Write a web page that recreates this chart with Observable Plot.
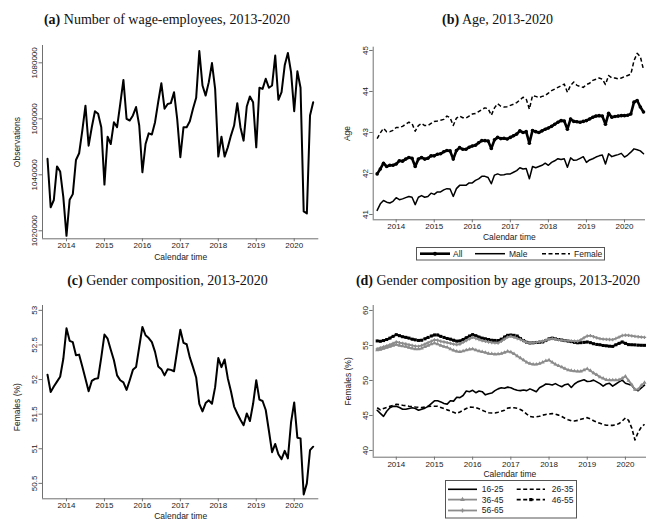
<!DOCTYPE html>
<html><head><meta charset="utf-8">
<script src="https://cdn.jsdelivr.net/npm/d3@7"></script>
<script src="https://cdn.jsdelivr.net/npm/@observablehq/plot@0.6"></script>
<style>
body{margin:0;background:#fff;}
#wrap{position:relative;width:653px;height:524px;background:#fff;overflow:hidden;}
.title{position:absolute;font-family:"Liberation Serif","Times New Roman",serif;font-size:14px;color:#111;white-space:nowrap;transform:translate(-50%,-50%);}
.title b{font-weight:bold;}
</style></head>
<body><div id="wrap"></div>
<script>
// ---------- DATA (monthly, 2013m7 .. 2020m7) ----------
const startYear = 2013, startMonth = 7;
const yearTicks = [2014, 2015, 2016, 2017, 2018, 2019, 2020];

// (a) Number of wage-employees
const employees = [
  1045700, 1028400, 1031000, 1043000, 1041200, 1032000,
  1018200, 1031100, 1033100, 1045300, 1047700, 1055800, 1064700, 1050400, 1057000, 1062700, 1061800, 1057000,
  1036500, 1053600, 1051000, 1058800, 1057000, 1065300, 1073900, 1060000, 1059400, 1061200, 1064200, 1057600,
  1040900, 1051000, 1054800, 1054400, 1058800, 1066000, 1072700, 1063600, 1065300, 1065600, 1069500, 1060000,
  1046300, 1057000, 1057000, 1059100, 1063600, 1067500, 1084200, 1071900, 1068300, 1073100, 1079900, 1070700,
  1046500, 1053600, 1046500, 1049800, 1054000, 1057600, 1065600, 1057000, 1052200, 1064400, 1068000, 1065900,
  1049800, 1071100, 1070700, 1074300, 1071100, 1071900, 1082600, 1066800, 1069500, 1079100, 1083500, 1076700,
  1062700, 1077000, 1071100, 1026900, 1026200, 1061200, 1065900
];
const employeesTicks = [1020000, 1040000, 1060000, 1080000];

// (b) Age
const ageAll = [
  41.99, 42.11, 42.25, 42.17, 42.20, 42.20,
  42.23, 42.31, 42.30, 42.35, 42.39, 42.37, 42.17, 42.35, 42.39, 42.35, 42.37, 42.43,
  42.43, 42.47, 42.48, 42.53, 42.56, 42.55, 42.35, 42.56, 42.63, 42.59, 42.59, 42.64,
  42.67, 42.69, 42.75, 42.80, 42.80, 42.79, 42.61, 42.82, 42.88, 42.85, 42.86, 42.84,
  42.88, 42.92, 42.96, 43.04, 43.00, 43.02, 42.74, 43.05, 43.02, 43.00, 43.04, 43.08,
  43.11, 43.15, 43.20, 43.25, 43.29, 43.28, 43.08, 43.33, 43.27, 43.26, 43.25, 43.27,
  43.29, 43.33, 43.37, 43.40, 43.41, 43.40, 43.20, 43.47, 43.37, 43.39, 43.40, 43.41,
  43.41, 43.42, 43.45, 43.74, 43.78, 43.62, 43.50
];
const ageMale = [
  41.10, 41.26, 41.34, 41.30, 41.28, 41.32,
  41.41, 41.36, 41.38, 41.41, 41.44, 41.42, 41.24, 41.42, 41.46, 41.42, 41.44, 41.52,
  41.49, 41.55, 41.55, 41.60, 41.63, 41.62, 41.44, 41.63, 41.71, 41.71, 41.71, 41.77,
  41.77, 41.83, 41.87, 41.93, 41.93, 41.90, 41.75, 41.96, 41.99, 41.96, 41.97, 41.99,
  41.99, 42.03, 42.07, 42.14, 42.11, 42.12, 41.87, 42.17, 42.14, 42.17, 42.20, 42.25,
  42.20, 42.27, 42.31, 42.36, 42.34, 42.36, 42.15, 42.38, 42.32, 42.33, 42.37, 42.41,
  42.27, 42.33, 42.36, 42.40, 42.43, 42.45, 42.23, 42.48, 42.41, 42.44, 42.46, 42.49,
  42.40, 42.45, 42.52, 42.60, 42.58, 42.55, 42.48
];
const ageFemale = [
  42.85, 42.99, 43.10, 43.02, 43.02, 43.05,
  43.12, 43.12, 43.15, 43.20, 43.25, 43.22, 43.03, 43.17, 43.22, 43.17, 43.17, 43.22,
  43.27, 43.28, 43.30, 43.32, 43.40, 43.36, 43.17, 43.35, 43.40, 43.36, 43.35, 43.40,
  43.45, 43.46, 43.51, 43.56, 43.60, 43.58, 43.42, 43.60, 43.70, 43.64, 43.62, 43.63,
  43.66, 43.69, 43.73, 43.79, 43.86, 43.82, 43.57, 43.90, 43.88, 43.85, 43.88, 43.90,
  43.96, 44.02, 44.06, 44.10, 44.14, 44.18, 43.98, 44.15, 44.23, 44.15, 44.12, 44.10,
  44.17, 44.20, 44.27, 44.30, 44.33, 44.30, 44.17, 44.39, 44.33, 44.33, 44.31, 44.33,
  44.36, 44.39, 44.42, 44.75, 44.93, 44.85, 44.53
];
const ageTicks = [41, 42, 43, 44, 45];

// (c) Gender composition (% females)
const females = [
  52.07, 51.82, 51.90, 51.97, 52.04, 52.30,
  52.74, 52.56, 52.54, 52.35, 52.36, 52.19, 52.01, 51.83, 51.98, 52.01, 52.02, 52.32,
  52.65, 52.59, 52.43, 52.28, 52.06, 51.99, 51.96, 51.85, 51.99, 52.14, 52.18, 52.47,
  52.76, 52.64, 52.60, 52.54, 52.40, 52.19, 52.15, 52.06, 52.15, 52.14, 52.12, 52.42,
  52.72, 52.53, 52.51, 52.32, 52.18, 52.03, 51.65, 51.54, 51.66, 51.70, 51.65, 51.89,
  52.31, 52.18, 52.29, 52.02, 51.83, 51.61, 51.51, 51.42, 51.34, 51.51, 51.40, 51.65,
  51.99, 51.71, 51.69, 51.56, 51.26, 50.95, 51.07, 50.92, 50.85, 50.97, 50.86, 51.38,
  51.67, 51.16, 51.15, 50.34, 50.50, 50.98, 51.03
];
const femalesTicks = [50.5, 51, 51.5, 52, 52.5, 53];

// (d) Gender composition by age groups (% females)
const g1625 = [
  45.74, 45.30, 44.88, 45.60, 46.10, 46.30,
  46.32, 46.15, 45.90, 45.90, 46.00, 46.10, 46.00, 45.74, 45.90, 46.05, 46.30, 46.70,
  47.10, 47.10, 46.94, 46.70, 46.62, 47.10, 47.05, 47.60, 47.55, 47.85, 48.50, 48.40,
  48.60, 48.25, 48.50, 48.40, 47.95, 48.10, 48.20, 48.55, 48.80, 48.95, 48.90, 49.05,
  48.95, 48.75, 48.60, 48.55, 48.65, 48.55, 48.80, 48.60, 48.40, 48.95, 49.20, 49.50,
  49.45, 49.35, 49.55, 49.30, 49.10, 49.40, 49.50, 49.00, 49.50, 49.80, 49.95, 50.10,
  49.85, 49.90, 50.05, 49.80, 49.55, 49.20, 49.50, 49.60, 49.20, 49.50, 49.80, 50.05,
  49.60, 49.45, 49.30, 48.71, 48.55, 48.95, 49.33
];
const g2635 = [
  46.10, 45.80, 46.00, 46.15, 46.30, 46.45,
  46.60, 46.55, 46.46, 46.40, 46.32, 46.28, 46.22, 46.18, 46.12, 46.20, 46.30, 46.32,
  46.32, 46.32, 46.15, 45.98, 45.80, 45.65, 45.45, 45.28, 45.50, 45.74, 46.00, 46.20,
  46.18, 46.12, 45.95, 45.74, 45.55, 45.40, 45.36, 45.36, 45.45, 45.60, 45.74, 46.05,
  46.12, 46.10, 46.03, 45.85, 45.60, 45.20, 44.85, 44.78, 44.82, 44.88, 45.05, 45.15,
  45.22, 45.26, 45.20, 45.05, 44.85, 44.60, 44.40, 44.25, 44.22, 44.30, 44.45, 44.58,
  44.69, 44.50, 44.25, 44.05, 43.88, 43.70, 43.60, 43.59, 43.59, 43.65, 43.85, 44.20,
  44.65, 44.30, 43.20, 41.50, 42.60, 43.35, 43.75
];
const g3645 = [
  54.35, 54.40, 54.55, 54.70, 54.85, 55.00,
  55.11, 55.00, 54.90, 54.85, 54.70, 54.60, 54.50, 54.49, 54.60, 54.80, 55.00, 55.20,
  55.35, 55.20, 55.00, 54.85, 54.75, 54.50, 54.30, 54.15, 54.10, 54.20, 54.35, 54.45,
  54.50, 54.35, 54.20, 54.10, 54.00, 53.85, 53.80, 53.75, 53.78, 53.85, 54.00, 54.15,
  54.05, 53.80, 53.50, 53.20, 52.90, 52.60, 52.40, 52.30, 52.30, 52.40, 52.60, 52.80,
  52.90, 52.60, 52.30, 52.10, 51.90, 51.70, 51.50, 51.40, 51.35, 51.30, 51.30, 51.50,
  51.65, 51.40, 51.05, 50.80, 50.50, 50.30, 50.10, 50.05, 50.05, 50.05, 50.10, 50.30,
  50.60, 50.00, 49.40, 48.70, 48.75, 49.30, 49.70
];
const g4655 = [
  55.65, 55.60, 55.70, 55.85, 56.05, 56.30,
  56.55, 56.40, 56.25, 56.16, 56.05, 55.90, 55.80, 55.72, 55.75, 55.95, 56.15, 56.35,
  56.50, 56.50, 56.30, 56.15, 56.00, 55.90, 55.75, 55.62, 55.65, 55.85, 56.10, 56.35,
  56.55, 56.40, 56.20, 56.05, 55.95, 55.85, 55.75, 55.72, 55.70, 55.90, 56.20, 56.45,
  56.50, 56.45, 56.35, 56.00, 55.70, 55.45, 55.35, 55.38, 55.42, 55.47, 55.50, 55.70,
  55.95, 56.05, 55.95, 55.85, 55.78, 55.70, 55.62, 55.55, 55.45, 55.38, 55.40, 55.45,
  55.50, 55.40, 55.25, 55.15, 55.10, 55.00, 54.95, 54.90, 54.87, 55.10, 55.30, 55.50,
  55.30, 55.12, 55.10, 55.08, 55.05, 55.03, 55.02
];
const g5665 = [
  54.50, 54.65, 54.80, 54.95, 55.10, 55.30,
  55.50, 55.40, 55.30, 55.21, 55.10, 55.00, 54.90, 54.87, 55.00, 55.20, 55.40, 55.60,
  55.80, 55.75, 55.60, 55.50, 55.40, 55.30, 55.20, 55.12, 55.20, 55.45, 55.70, 55.95,
  56.16, 56.00, 55.85, 55.70, 55.60, 55.50, 55.42, 55.38, 55.35, 55.60, 55.90, 56.20,
  56.30, 56.15, 56.00, 55.85, 55.65, 55.45, 55.35, 55.40, 55.45, 55.55, 55.60, 55.75,
  55.90, 55.97, 55.90, 55.80, 55.75, 55.70, 55.68, 55.65, 55.62, 55.60, 55.80, 56.10,
  56.35, 56.40, 56.25, 56.10, 55.97, 55.90, 55.87, 55.85, 55.83, 56.00, 56.20, 56.42,
  56.47, 56.45, 56.38, 56.30, 56.25, 56.20, 56.16
];
const groupTicks = [40, 45, 50, 55, 60];

// ---------- helpers ----------
const t = (d, i) => startYear + (startMonth - 1) / 12 + i / 12;
const axisStroke = "#707070";
const gray = "#8c8c8c";
const wrap = document.getElementById("wrap");
function place(node, left, top) {
  node.style.position = "absolute";
  node.style.left = left + "px";
  node.style.top = top + "px";
  wrap.appendChild(node);
}
function title(html, cx, cy) {
  const d = document.createElement("div");
  d.className = "title";
  d.innerHTML = html;
  d.style.left = cx + "px";
  d.style.top = cy + "px";
  wrap.appendChild(d);
}

function panel(o) {
  return Plot.plot({
    width: o.width, height: o.height,
    marginLeft: o.ml, marginRight: o.mr, marginTop: o.mt, marginBottom: o.mb,
    x: {domain: o.xDomain},
    y: {domain: o.yDomain},
    style: {fontFamily: "'Liberation Sans', Arial, sans-serif", fontSize: "8px", color: "#222", background: "transparent", overflow: "visible"},
    marks: [
      ...o.marks,
      Plot.ruleX([o.xDomain[0]], {stroke: axisStroke, strokeWidth: 1}),
      Plot.ruleY([o.yDomain[0]], {stroke: axisStroke, strokeWidth: 1}),
      Plot.axisX({ticks: yearTicks, tickFormat: d => String(d), tickSize: 3, tickPadding: 1, stroke: axisStroke, label: null, fontSize: 8}),
      Plot.axisY({ticks: o.yTicks, tickFormat: d => String(d), tickSize: 3.5, tickPadding: 2, tickRotate: -90, stroke: axisStroke, label: null, fontSize: 8}),
      Plot.text(["Calendar time"], {text: d => d, frameAnchor: "bottom", lineAnchor: "middle", textAnchor: "middle", dy: o.xlabDy, fontSize: 8.5}),
      Plot.text([o.yLabel], {text: d => d, frameAnchor: "left", lineAnchor: "middle", textAnchor: "middle", dx: o.ylabDx, dy: o.ylabDy || 0, rotate: -90, fontSize: 8.5})
    ]
  });
}

const xA = [2013.368, 2020.648];
const xB = [2013.396, 2020.552];

// ---------- (a) ----------
title("<b>(a)</b> Number of wage-employees, 2013-2020", 167, 20);
place(panel({
  width: 326, height: 262, ml: 42, mr: 7.7, mt: 45, mb: 23.7,
  xDomain: xA, yDomain: [1017138, 1086190], yTicks: employeesTicks,
  yLabel: "Observations", ylabDx: -25, xlabDy: 18,
  marks: [Plot.lineY(employees, {x: t, y: d => d, stroke: "#000", strokeWidth: 2})]
}), 0, 0);

// ---------- (b) ----------
title("<b>(b)</b> Age, 2013-2020", 497.5, 20);
place(panel({
  width: 327, height: 262, ml: 46.7, mr: 8, mt: 46.7, mb: 42.7,
  xDomain: xB, yDomain: [40.87, 45.08], yTicks: ageTicks,
  yLabel: "Age", ylabDx: -26, xlabDy: 17.5,
  marks: [
    Plot.lineY(ageFemale, {x: t, y: d => d, stroke: "#000", strokeWidth: 1.5, strokeDasharray: "4,2.5", strokeLinecap: "butt"}),
    Plot.lineY(ageMale, {x: t, y: d => d, stroke: "#000", strokeWidth: 1.5}),
    Plot.lineY(ageAll, {x: t, y: d => d, stroke: "#000", strokeWidth: 2.6}),
    Plot.dot(ageAll, {x: t, y: d => d, r: 1.8, fill: "#000", stroke: "none"})
  ]
}), 326, 0);

// ---------- (c) ----------
title("<b>(c)</b> Gender composition, 2013-2020", 167.5, 281);
place(panel({
  width: 326, height: 262, ml: 42, mr: 7.7, mt: 43, mb: 25.7,
  xDomain: xA, yDomain: [50.277, 53.07], yTicks: femalesTicks,
  yLabel: "Females (%)", ylabDx: -25, ylabDy: 5, xlabDy: 17.5,
  marks: [Plot.lineY(females, {x: t, y: d => d, stroke: "#000", strokeWidth: 2})]
}), 0, 262);

// ---------- (d) ----------
title("<b>(d)</b> Gender composition by age groups, 2013-2020", 498, 281);
place(panel({
  width: 327, height: 262, ml: 46.7, mr: 7, mt: 43, mb: 67.3,
  xDomain: xB, yDomain: [39.04, 60.71], yTicks: groupTicks,
  yLabel: "Females (%)", ylabDx: -25, xlabDy: 17.5,
  marks: [
    Plot.lineY(g1625, {x: t, y: d => d, stroke: "#000", strokeWidth: 1.6}),
    Plot.lineY(g2635, {x: t, y: d => d, stroke: "#000", strokeWidth: 1.6, strokeDasharray: "4,2.5", strokeLinecap: "butt"}),
    Plot.lineY(g3645, {x: t, y: d => d, stroke: gray, strokeWidth: 1.8}),
    Plot.dot(g3645, {x: t, y: d => d, symbol: "triangle", r: 1.5, fill: gray, stroke: "none"}),
    Plot.lineY(g4655, {x: t, y: d => d, stroke: "#000", strokeWidth: 2.2, strokeDasharray: "6,1", strokeLinecap: "butt"}),
    Plot.dot(g4655, {x: t, y: d => d, symbol: "square", r: 1.7, fill: "#000", stroke: "none"}),
    Plot.lineY(g5665, {x: t, y: d => d, stroke: gray, strokeWidth: 1.8}),
    Plot.dot(g5665, {x: t, y: d => d, symbol: "cross", r: 1.4, fill: gray, stroke: "none"})
  ]
}), 326, 262);

// ---------- legends ----------
function legend(left, top, w, h, items) {
  const svg = d3.create("svg").attr("width", w).attr("height", h)
    .style("overflow", "visible");
  svg.append("rect").attr("x", 0.5).attr("y", 0.5).attr("width", w - 1).attr("height", h - 1)
    .attr("fill", "#fff").attr("stroke", "#555").attr("stroke-width", 1);
  for (const it of items) {
    svg.append("line").attr("x1", it.x1).attr("x2", it.x2).attr("y1", it.y).attr("y2", it.y)
      .attr("stroke", it.color).attr("stroke-width", it.sw)
      .attr("stroke-dasharray", it.dash || null);
    if (it.marker) {
      svg.append("path").attr("d", d3.symbol(it.marker, it.msize)())
        .attr("transform", `translate(${(it.x1 + it.x2) / 2},${it.y})`).attr("fill", it.color);
    }
    svg.append("text").attr("x", it.tx).attr("y", it.y).attr("dy", "0.35em")
      .attr("font-family", "'Liberation Sans', Arial, sans-serif").attr("font-size", 8.5)
      .attr("fill", "#222").text(it.label);
  }
  place(svg.node(), left, top);
}
legend(416, 247, 189, 13.5, [
  {x1: 4, x2: 34, y: 6.7, color: "#000", sw: 2.6, marker: d3.symbolCircle, msize: 12, label: "All", tx: 37},
  {x1: 59, x2: 89, y: 6.7, color: "#000", sw: 1.5, label: "Male", tx: 93},
  {x1: 126, x2: 154, y: 6.7, color: "#000", sw: 1.5, dash: "4,2.5", label: "Female", tx: 158}
]);
legend(445, 480, 132, 38.5, [
  {x1: 3, x2: 32, y: 9.3, color: "#000", sw: 1.6, label: "16-25", tx: 36.7},
  {x1: 71.7, x2: 100, y: 9.3, color: "#000", sw: 1.6, dash: "4,2.5", label: "26-35", tx: 106.7},
  {x1: 3, x2: 32, y: 19.6, color: gray, sw: 1.8, marker: d3.symbolTriangle, msize: 10, label: "36-45", tx: 36.7},
  {x1: 71.7, x2: 100, y: 19.6, color: "#000", sw: 1.6, dash: "4,2.5", marker: d3.symbolSquare, msize: 10, label: "46-55", tx: 106.7},
  {x1: 3, x2: 32, y: 30.5, color: gray, sw: 1.8, marker: d3.symbolCross, msize: 8, label: "56-65", tx: 36.7}
]);
</script></body></html>
